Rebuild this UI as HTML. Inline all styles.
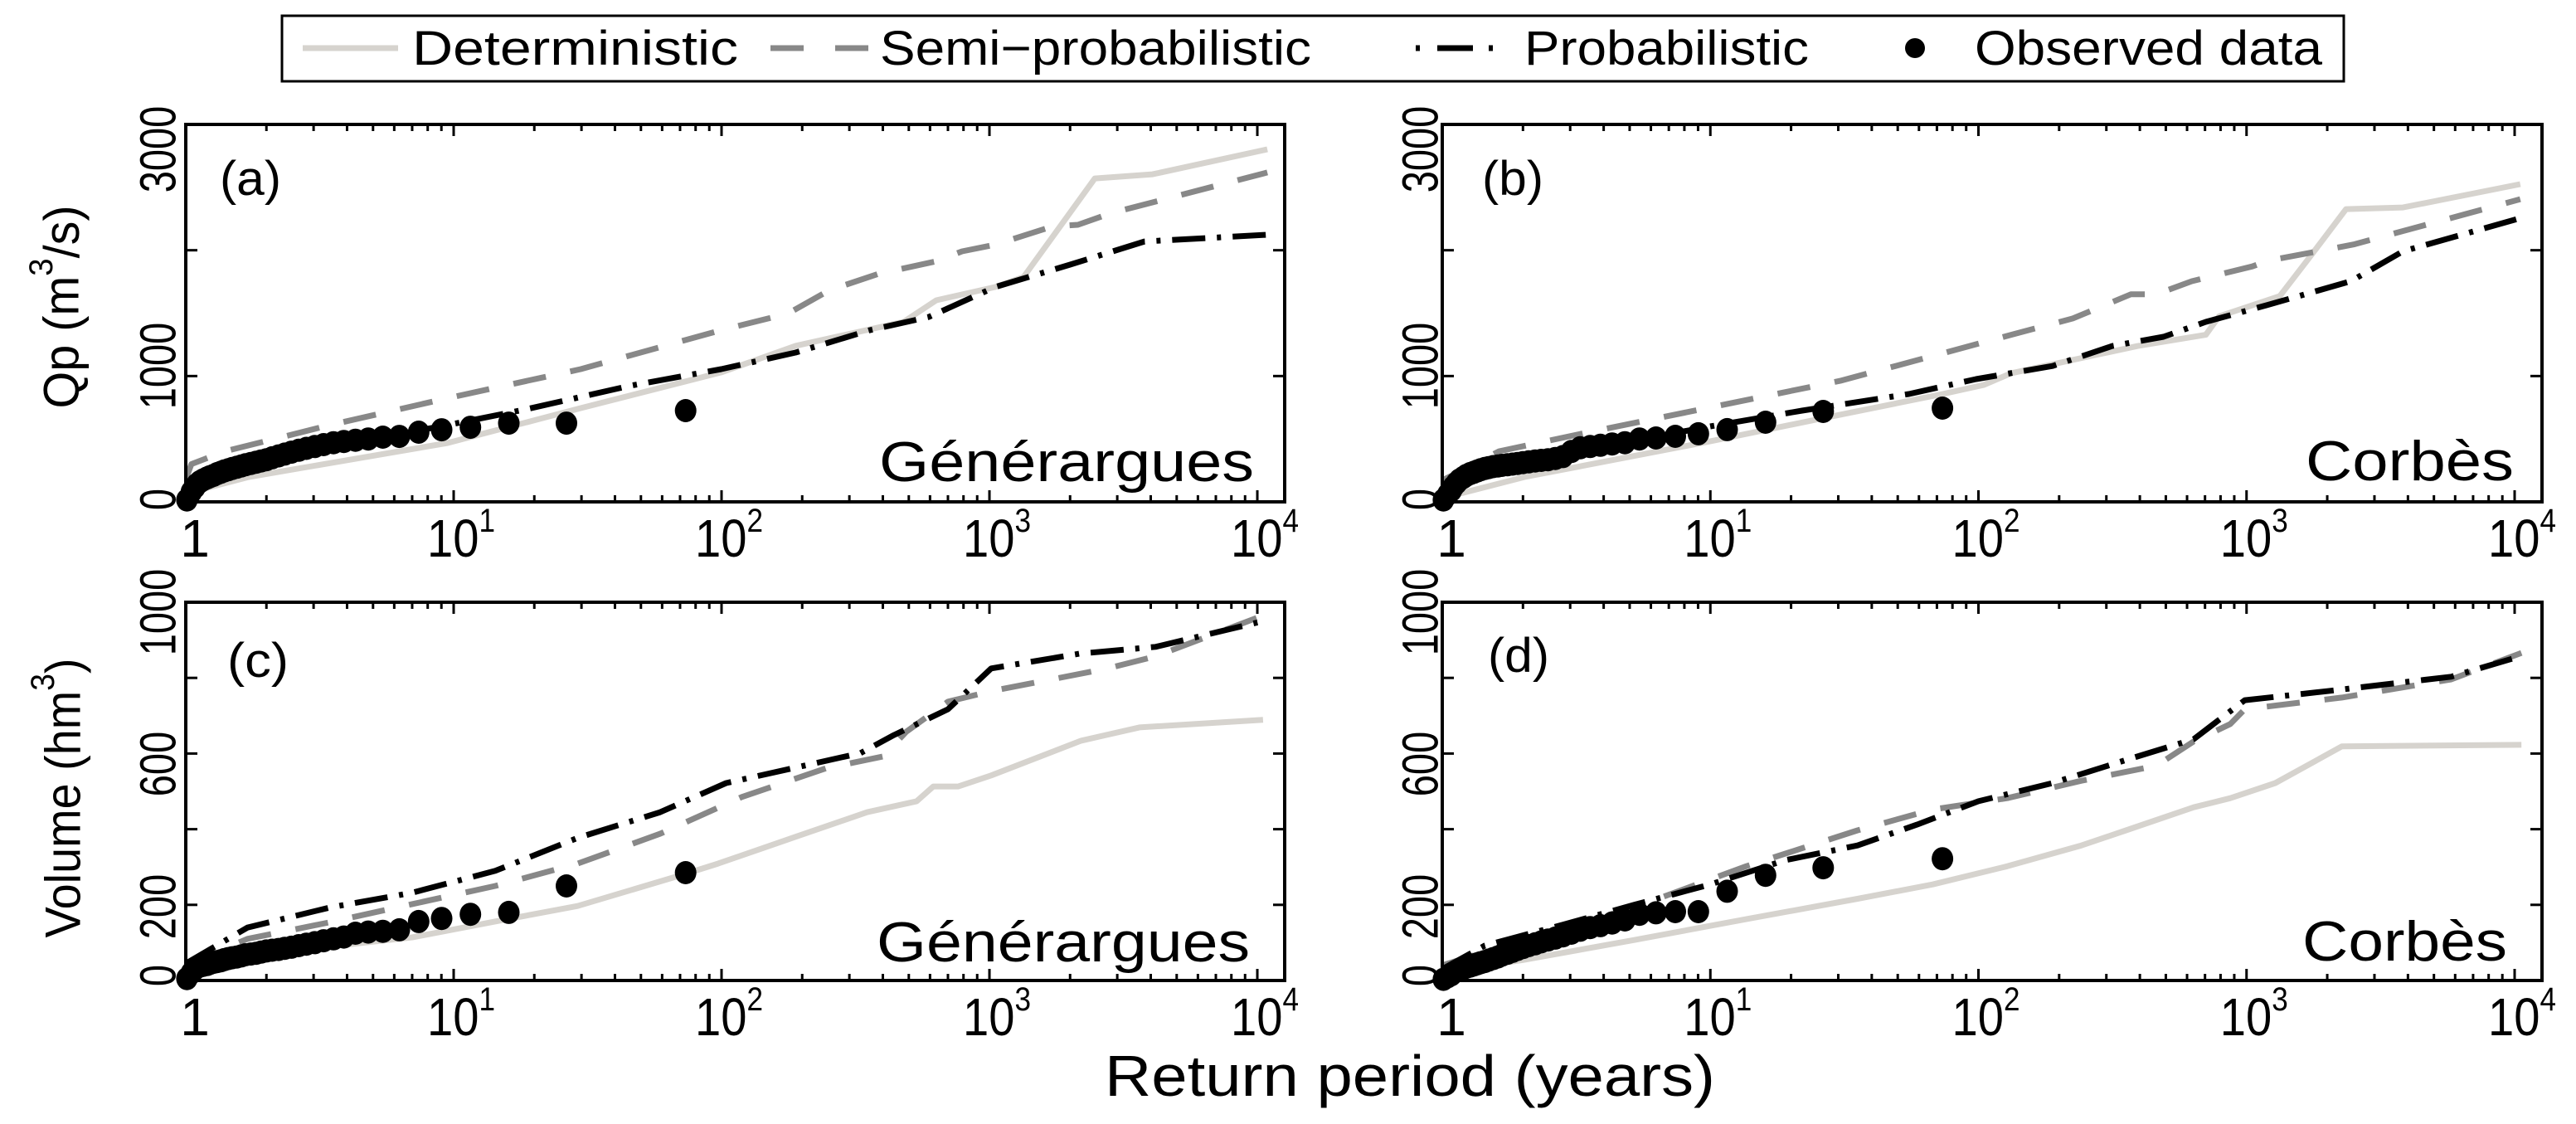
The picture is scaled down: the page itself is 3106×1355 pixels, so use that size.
<!DOCTYPE html>
<html><head><meta charset="utf-8"><style>
html,body{margin:0;padding:0;background:#fff;}
svg{display:block;font-family:"Liberation Sans",Arial,sans-serif;}
</style></head><body>
<svg id="fig" width="3106" height="1355" viewBox="0 0 3106 1355" xmlns="http://www.w3.org/2000/svg">
<g id="legend">
  <rect x="340" y="19" width="2486" height="79" fill="#fff" stroke="#000" stroke-width="3"/>
  <g>
    <line x1="365" y1="58" x2="480" y2="58" stroke="#d6d3ce" stroke-width="7"/>
    <text x="497" y="78" font-size="58" textLength="393" lengthAdjust="spacingAndGlyphs">Deterministic</text>
  </g>
  <g>
    <line x1="929" y1="58" x2="969" y2="58" stroke="#888" stroke-width="7"/>
    <line x1="1007" y1="58" x2="1047" y2="58" stroke="#888" stroke-width="7"/>
    <text x="1061" y="78" font-size="58" textLength="520" lengthAdjust="spacingAndGlyphs">Semi−probabilistic</text>
  </g>
  <g>
    <line x1="1707" y1="58" x2="1712" y2="58" stroke="#000" stroke-width="7"/>
    <line x1="1733" y1="58" x2="1776" y2="58" stroke="#000" stroke-width="7"/>
    <line x1="1795" y1="58" x2="1800" y2="58" stroke="#000" stroke-width="7"/>
    <text x="1838" y="78" font-size="58" textLength="343" lengthAdjust="spacingAndGlyphs">Probabilistic</text>
  </g>
  <g>
    <circle cx="2309" cy="58" r="12" fill="#000"/>
    <text x="2381" y="78" font-size="58" textLength="419" lengthAdjust="spacingAndGlyphs">Observed data</text>
  </g>
</g>
<text x="74" y="370" font-size="60" text-anchor="middle" dominant-baseline="central" transform="rotate(-90 74 370)" textLength="245" lengthAdjust="spacingAndGlyphs">Qp (m<tspan font-size="40" dy="-24">3</tspan><tspan dy="24">/s)</tspan></text>
<text x="76" y="962" font-size="60" text-anchor="middle" dominant-baseline="central" transform="rotate(-90 76 962)" textLength="337" lengthAdjust="spacingAndGlyphs">Volume (hm<tspan font-size="40" dy="-24">3</tspan><tspan dy="24">)</tspan></text>
<text x="1332" y="1321" font-size="70" textLength="736" lengthAdjust="spacingAndGlyphs">Return period (years)</text>
</svg>
<script>
// ---- data ----
const obsT = [73.43,26.36,16.06,11.55,9.02,7.40,6.27,5.44,4.80,4.30,3.89,3.56,3.27,3.03,2.82,2.64,2.48,2.34,2.22,2.10,2.00,1.91,1.83,1.75,1.67,1.61,1.55,1.49,1.44,1.39,1.35,1.31,1.27,1.23,1.20,1.16,1.13,1.10,1.08,1.05,1.01];
const obsA = [725,626,626,593,573,554,520,514,500,490,480,470,455,440,425,410,395,380,365,350,335,325,315,305,295,285,275,265,255,245,235,225,210,200,190,175,160,140,115,80,15];
const obsB = [745,719,633,574,541,521,508,500,470,460,450,440,430,400,360,345,335,330,325,318,312,305,300,295,290,285,280,272,265,255,245,235,225,210,195,175,150,120,90,60,15];
const obsC = [285,250,180,175,164,156,134,130,128,125,115,110,105,100,96,92,88,85,82,80,78,75,72,70,68,65,62,60,58,55,52,50,48,45,42,40,38,35,30,20,5];
const obsD = [322,298,278,236,182,182,179,175,160,152,145,140,133,125,118,112,107,102,97,92,87,82,77,72,67,62,58,54,50,47,44,41,38,35,32,29,25,20,15,10,3];

const detAT = [1,1.1,1.72,9.5,29.8,99.7,189,478,633,1050,1340,2475,4060,10900];
const detAV = [20,90,198,468,745,1029,1240,1431,1602,1708,1787,2571,2604,2802];
const semiAT = [1,1.05,1.39,3.5,9.5,29.8,99.7,177,252,386,633,790,1050,1720,2140,2850,10900];
const semiAV = [180,300,400,613,824,1055,1365,1497,1681,1813,1912,1991,2044,2189,2202,2295,2618];
const probAT = [1,1.2,2,5,10,19,45.6,99.7,189,358,594,1050,2000,3790,10900];
const probAV = [0,200,330,500,620,740,923,1055,1187,1365,1470,1708,1886,2070,2123];

const detBT = [1,2.03,10.1,30.5,73.5,105,132,273,393,705,790,1330,1700,2350,3830,10500];
const detBV = [30,198,483,693,857,930,1021,1167,1239,1328,1475,1635,1930,2327,2340,2525];
const semiBT = [1,1.63,3.4,10.1,30.5,73.5,132,225,370,460,625,1050,1200,1870,2530,10500];
const semiBV = [170,402,547,752,962,1180,1327,1458,1650,1650,1754,1871,1917,1994,2048,2406];
const probBT = [1,1.2,2,5,10,22,55,98,189,316,490,705,1190,2450,3830,10500];
const probBV = [0,230,330,480,600,725,857,976,1080,1239,1312,1431,1563,1754,1991,2255];

const detCT = [1,1.7,7,16.4,29,72.6,97,184,350,535,617,765,1015,2200,3630,10500];
const detCV = [10,66,114,164,197,281,309,377,445,474,513,513,542,634,669,689];
const semiCT = [1,1.7,3.45,7,14.3,29,59,119,245,400,490,700,1015,2720,4170,10500];
const semiCV = [40,110,154,202,250,309,388,485,561,592,658,737,765,824,857,965];
const probCT = [1,1.7,3.45,7,14.3,29,59,104,184,330,440,700,1015,2170,4170,10500];
const probCV = [45,140,193,232,290,377,445,522,561,601,649,717,825,864,882,950];

const detDT = [1,1.11,1.99,5.2,13.6,35.4,67.5,128,242,355,635,870,1280,2270,10600];
const detDV = [0,28,54,107,162,216,254,302,357,397,458,482,522,619,623];
const semiDT = [1,1.99,5.2,13.6,35.4,67.5,128,242,462,635,870,985,2270,5800,10600];
const semiDV = [40,107,193,302,397,452,482,528,568,632,678,717,748,796,866];
const probDT = [1,1.44,2.8,5.2,10,19,35.4,59,100,189,355,635,985,2000,5800,10600];
const probDV = [30,92,147,200,254,318,357,412,474,522,583,638,741,765,803,858];

const yTicksTop = [0,1000,2000,3000];
const yLabelsTop = ["0","1000","","3000"];
const yTicksBot = [0,200,400,600,800,1000];
const yLabelsBot = ["0","200","","600","","1000"];
const xDecades = [0,1,2,3,4];

// ---- drawing ----
const NS = "http://www.w3.org/2000/svg";
const svg = document.getElementById('fig');
function mk(tag, attrs, parent){ const e=document.createElementNS(NS,tag); for(const k in attrs) e.setAttribute(k,attrs[k]); (parent||svg).appendChild(e); return e; }

const XMAX = 12650;
const panels = [
 {id:'a', x0:224, x1:1549, yT:150, yB:605, ymax:3000, label:'(a)', lx:265, ly:235, site:'Générargues', sx:1060, sw:452, sy:580,
  det:[detAT,detAV], semi:[semiAT,semiAV], prob:[probAT,probAV], obs:obsA, ticks:yTicksTop, tl:yLabelsTop, tlY:[602,441,0,180], lblX:191},
 {id:'b', x0:1739, x1:3065, yT:150, yB:605, ymax:3000, label:'(b)', lx:1787, ly:235, site:'Corbès', sx:2780, sw:251, sy:579,
  det:[detBT,detBV], semi:[semiBT,semiBV], prob:[probBT,probBV], obs:obsB, ticks:yTicksTop, tl:yLabelsTop, tlY:[602,441,0,180], lblX:1713},
 {id:'c', x0:224, x1:1549, yT:726, yB:1182, ymax:1000, label:'(c)', lx:274, ly:816, site:'Générargues', sx:1057, sw:450, sy:1159,
  det:[detCT,detCV], semi:[semiCT,semiCV], prob:[probCT,probCV], obs:obsC, ticks:yTicksBot, tl:yLabelsBot, tlY:[1176,1093,0,921,0,738], lblX:191},
 {id:'d', x0:1739, x1:3065, yT:726, yB:1182, ymax:1000, label:'(d)', lx:1794, ly:810, site:'Corbès', sx:2776, sw:247, sy:1158,
  det:[detDT,detDV], semi:[semiDT,semiDV], prob:[probDT,probDV], obs:obsD, ticks:yTicksBot, tl:yLabelsBot, tlY:[1176,1093,0,921,0,738], lblX:1713}
];

panels.forEach(p=>{
  const X = t => p.x0 + (p.x1-p.x0)*Math.log10(t)/Math.log10(XMAX);
  const Y = v => p.yB - (p.yB-p.yT)*v/p.ymax;
  const g = mk('g',{});
  
  
  const cid='clip'+p.id;
  const cp = mk('clipPath',{id:cid},g); mk('rect',{x:p.x0,y:p.yT,width:p.x1-p.x0,height:p.yB-p.yT},cp);
  const plot = mk('g',{'clip-path':'url(#'+cid+')'},g);
  function line(T,V,style,name){
    const d = T.map((t,i)=>(i?'L':'M')+X(t).toFixed(1)+','+Y(V[i]).toFixed(1)).join('');
    const e = mk('path',Object.assign({d:d,fill:'none','stroke-width':7,'stroke-linejoin':'round'},style),plot);
    
    
  }
  line(p.det[0],p.det[1],{stroke:'#d6d3ce'},'deterministic-line-'+p.id);
  line(p.semi[0],p.semi[1],{stroke:'#888','stroke-dasharray':'40 30'},'semi-probabilistic-line-'+p.id);
  line(p.prob[0],p.prob[1],{stroke:'#000','stroke-dasharray':'40 14 5 14'},'probabilistic-line-'+p.id);
  const og = mk('g',{},g);
  
  
  p.obs.forEach((v,i)=>{
    const c = mk('ellipse',{cx:X(obsT[i]).toFixed(1),cy:Y(v).toFixed(1),rx:13,ry:14,fill:'#000'},og);
    
    
  });
  const tg = mk('g',{stroke:'#000','stroke-width':3},g);
  
  
  xDecades.forEach(dc=>{
    const base=Math.pow(10,dc);
    for(let k=1;k<=9;k++){
      const t=base*k; if(t>XMAX) break;
      const x=X(t), L=(k===1)?14:8;
      mk('line',{x1:x,y1:p.yB,x2:x,y2:p.yB-L},tg);
      mk('line',{x1:x,y1:p.yT,x2:x,y2:p.yT+L},tg);
    }
    const tx = X(base);
    let lt;
    if(dc===0){
      lt = mk('text',{x:tx+11,y:p.yB+66,'font-size':64,'text-anchor':'middle'},g);
      lt.textContent='1';
    } else {
      lt = mk('text',{x:tx-32,y:p.yB+66,'font-size':64,textLength:82,lengthAdjust:'spacingAndGlyphs'},g);
      lt.textContent='10';
      const s=mk('tspan',{'font-size':40,dy:-30},lt); s.textContent=String(dc);
    }
    
    
  });
  p.ticks.forEach((v,i)=>{
    const y=Y(v);
    mk('line',{x1:p.x0,y1:y,x2:p.x0+14,y2:y},tg);
    mk('line',{x1:p.x1,y1:y,x2:p.x1-14,y2:y},tg);
    if(p.tl[i]){
      const ly=p.tlY[i];
      const t = mk('text',{x:0,y:0,'font-size':47,'text-anchor':'middle','dominant-baseline':'central',transform:`translate(${p.lblX},${ly}) scale(1.3,1) rotate(-90)`},g);
      t.textContent=p.tl[i];
      
      
    }
  });
  const fr = mk('rect',{x:p.x0,y:p.yT,width:p.x1-p.x0,height:p.yB-p.yT,fill:'none',stroke:'#000','stroke-width':4},g);
  
  
  const pl = mk('text',{x:p.lx,y:p.ly,'font-size':58,textLength:74,lengthAdjust:'spacingAndGlyphs'},g);
  pl.textContent=p.label;
  
  
  const st = mk('text',{x:p.sx,y:p.sy,'font-size':68,textLength:p.sw,lengthAdjust:'spacingAndGlyphs'},g);
  st.textContent=p.site;
  
  
});
</script>
</body></html>
